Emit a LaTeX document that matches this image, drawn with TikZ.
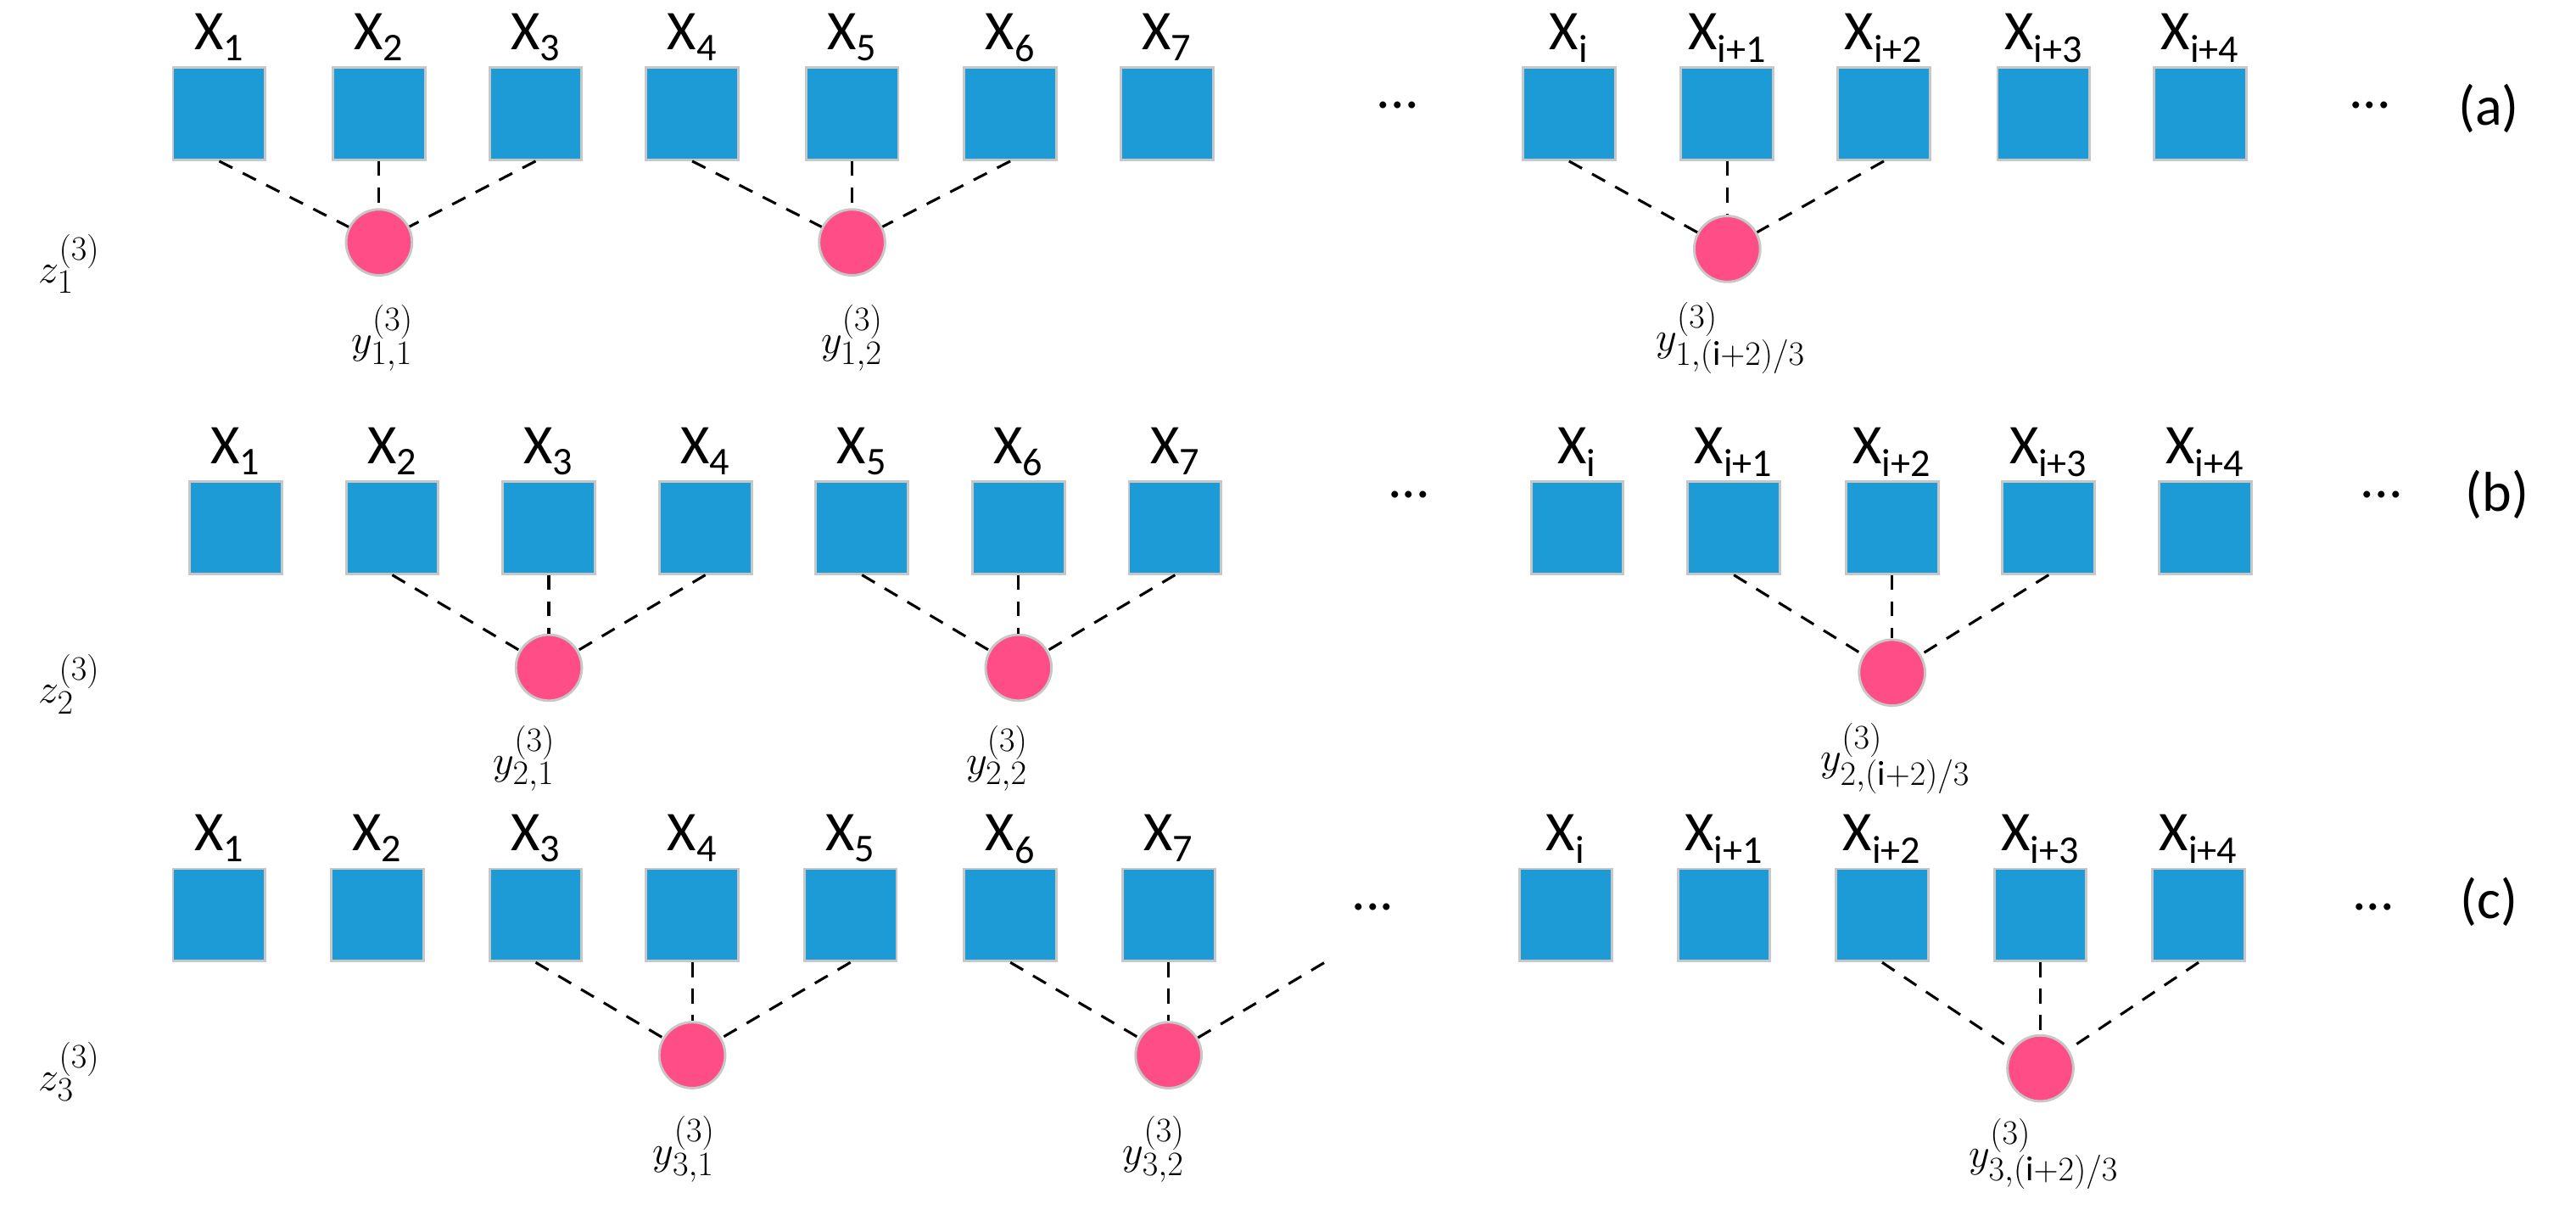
\documentclass[tikz,border=0pt]{standalone}
\usepackage{fontspec}
\setmainfont{Carlito}
\begin{document}
\begin{tikzpicture}[x=1pt,y=-1pt,
 sq/.style={draw=black!22,line width=1.5pt,fill={rgb,255:red,29;green,155;blue,215},minimum size=56pt,inner sep=0pt},
 cir/.style={circle,draw=black!22,line width=1.5pt,fill={rgb,255:red,255;green,77;blue,136},minimum size=40pt,inner sep=0pt},
 xl/.style={font=\fontsize{34}{34}\selectfont,inner sep=0pt,anchor=base},
 dl/.style={font=\fontsize{34}{34}\selectfont,inner sep=0pt},
 ml/.style={font=\fontsize{30}{30}\selectfont,inner sep=0pt},
 con/.style={dashed,line width=1.6pt,dash pattern=on 9pt off 7pt}]
\useasboundingbox (0,0) rectangle (1563,747);
% row a
\foreach \n/\x/\s in {a1/133/1,a2/230/2,a3/325/3,a4/420/4,a5/517/5,a6/613/6,a7/708/7,ai/952/i,aj/1048/i+1,ak/1143/i+2,al/1240/i+3,am/1335/i+4}{
 \node[sq] (\n) at (\x,69) {};
 \node[xl] (t\n) at (\x,30) {X\textsubscript{\s}};}
\node[cir] (ca1) at (230,147) {};
\node[cir] (ca2) at (517,147) {};
\node[cir] (ca3) at (1048,151) {};
\foreach \a/\c in {a1/ca1,a2/ca1,a3/ca1,a4/ca2,a5/ca2,a6/ca2,ai/ca3,aj/ca3,ak/ca3}
 \draw[con] (\a.south) -- (\c);
\node[dl] (da1) at (848,64) {...};
\node[dl] (da2) at (1438,64) {...};
\node[dl] (pa) at (1510,66) {(a)};
\node[ml] (za) at (42,160) {$z_1^{(3)}$};
\node[ml] (ya1) at (232,205) {$y_{1,1}^{(3)}$};
\node[ml] (ya2) at (517,205) {$y_{1,2}^{(3)}$};
\node[ml] (ya3) at (1050,205) {$y_{1,(\mathrm{i}+2)/3}^{(3)}$};
% row b
\foreach \n/\x/\s in {b1/143/1,b2/238/2,b3/333/3,b4/428/4,b5/523/5,b6/618/6,b7/713/7,bi/957/i,bj/1052/i+1,bk/1148/i+2,bl/1243/i+3,bm/1338/i+4}{
 \node[sq] (\n) at (\x,320) {};
 \node[xl] (t\n) at (\x,281) {X\textsubscript{\s}};}
\node[cir] (cb1) at (333,405) {};
\node[cir] (cb2) at (618,405) {};
\node[cir] (cb3) at (1148,408) {};
\foreach \a/\c in {b2/cb1,b3/cb1,b4/cb1,b5/cb2,b6/cb2,b7/cb2,bj/cb3,bk/cb3,bl/cb3}
 \draw[con] (\a.south) -- (\c);
\node[dl] (db1) at (855,300) {...};
\node[dl] (db2) at (1445,300) {...};
\node[dl] (pb) at (1515,300) {(b)};
\node[ml] (zb) at (42,415) {$z_2^{(3)}$};
\node[ml] (yb1) at (318,460) {$y_{2,1}^{(3)}$};
\node[ml] (yb2) at (605,460) {$y_{2,2}^{(3)}$};
\node[ml] (yb3) at (1150,460) {$y_{2,(\mathrm{i}+2)/3}^{(3)}$};
% row c
\foreach \n/\x/\s in {c1/133/1,c2/229/2,c3/325/3,c4/420/4,c5/516/5,c6/613/6,c7/709/7,ci/950/i,cj/1046/i+1,ck/1142/i+2,cl/1238/i+3,cm/1334/i+4}{
 \node[sq] (\n) at (\x,555) {};
 \node[xl] (t\n) at (\x,516) {X\textsubscript{\s}};}
\node[cir] (cc1) at (420,640) {};
\node[cir] (cc2) at (709,640) {};
\node[cir] (cc3) at (1238,648) {};
\coordinate (cend) at (805,583);
\foreach \a/\c in {c3/cc1,c4/cc1,c5/cc1,c6/cc2,c7/cc2,ck/cc3,cl/cc3,cm/cc3}
 \draw[con] (\a.south) -- (\c);
\draw[con] (cc2) -- (cend);
\node[dl] (dc1) at (833,550) {...};
\node[dl] (dc2) at (1440,550) {...};
\node[dl] (pc) at (1510,547) {(c)};
\node[ml] (zc) at (42,650) {$z_3^{(3)}$};
\node[ml] (yc1) at (415,697) {$y_{3,1}^{(3)}$};
\node[ml] (yc2) at (700,697) {$y_{3,2}^{(3)}$};
\node[ml] (yc3) at (1240,700) {$y_{3,(\mathrm{i}+2)/3}^{(3)}$};
\end{tikzpicture}
\end{document}
